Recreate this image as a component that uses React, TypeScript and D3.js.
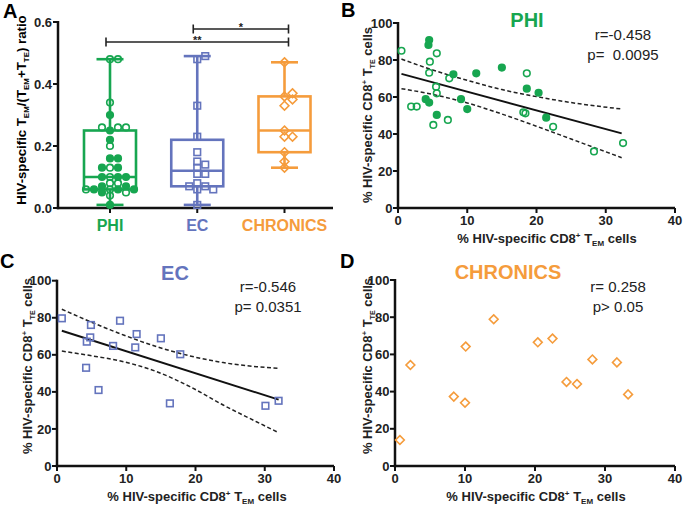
import React from 'react';
import * as d3 from 'd3';

const FONT = "'Liberation Sans', Arial, Helvetica, sans-serif";
const GREEN = '#17a650';
const BLUE = '#6474bd';
const ORANGE = '#f59c3c';

// ---------- Panel A data ----------
const groups = ['PHI', 'EC', 'CHRONICS'];
const ratioTicks = [0, 0.2, 0.4, 0.6];
const phiRatio = [0.48, 0.48, 0.34, 0.30, 0.25, 0.26, 0.26, 0.26, 0.22, 0.20, 0.16, 0.16, 0.13, 0.13, 0.13, 0.10, 0.10, 0.10, 0.10, 0.08, 0.08, 0.07, 0.07, 0.06, 0.06, 0.06, 0.06, 0.06, 0.05, 0.05, 0.04, 0.01];
const phiRatioFilled = [0, 0, 0, 1, 1, 0, 0, 0, 1, 0, 1, 1, 0, 1, 1, 0, 1, 1, 1, 0, 0, 1, 1, 0, 1, 1, 1, 0, 1, 0, 0, 1];
const ecRatio = [0.48, 0.49, 0.33, 0.23, 0.18, 0.15, 0.14, 0.13, 0.11, 0.11, 0.08, 0.07, 0.07, 0.06, 0.06, 0.01];
const chronicRatio = [0.47, 0.36, 0.37, 0.35, 0.33, 0.25, 0.23, 0.23, 0.18, 0.15, 0.13];
const boxMin = [0.01, 0.01, 0.13];
const boxQ1 = [0.06, 0.07, 0.18];
const boxMed = [0.10, 0.12, 0.25];
const boxQ3 = [0.25, 0.22, 0.36];
const boxMax = [0.48, 0.49, 0.47];
const sigLabels = ['**', '*'];
const sigFrom = ['PHI', 'EC'];
const sigTo = ['CHRONICS', 'CHRONICS'];

// ---------- Scatter panels data ----------
const xTicks = [0, 10, 20, 30, 40];
const yTicks = [0, 20, 40, 60, 80, 100];

// B: PHI
const phiTEM = [0.5, 1.9, 2.7, 4.6, 4.5, 5.6, 5.5, 5.6, 5.1, 7.2, 7.4, 18.6, 18.1, 18.4, 22.4, 28.3, 32.5,
  4.5, 4.4, 4.0, 4.5, 5.6, 8.0, 9.1, 10.0, 11.3, 15.0, 18.6, 20.3, 21.4];
const phiTTE = [85, 54.8, 54.8, 79.1, 73.1, 83.6, 65.6, 62, 44.9, 47.6, 70.1, 72.8, 51.7, 51.2, 43.9, 30.6, 35.1,
  90.8, 88.1, 58.8, 57, 50.3, 72.3, 58.8, 53.5, 72.8, 75.9, 64.5, 62.3, 48.8];
const phiFilled = [0, 0, 0, 0, 0, 0, 0, 0, 0, 0, 0, 0, 0, 0, 0, 0, 0,
  1, 1, 1, 1, 1, 1, 1, 1, 1, 1, 1, 1, 1];
const phiFitX = [0.5, 32.3];
const phiFitY = [72.5, 40.3];
const phiBandX = [0.5, 5, 10, 15, 20, 25, 32.3];
const phiBandUpper = [80.5, 74.6, 69.0, 64.0, 60.2, 57.0, 53.5];
const phiBandLower = [64.5, 61.4, 56.8, 50.8, 44.2, 37.3, 27.2];

// C: EC
const ecTEM = [0.7, 4.9, 9.1, 4.8, 4.3, 11.5, 8.1, 11.3, 15.0, 17.8, 4.2, 6.0, 16.3, 30.1, 32.0];
const ecTTE = [79.7, 76.1, 78.4, 69.4, 67.1, 71.2, 64.8, 64.0, 68.9, 60.3, 53.0, 41.0, 33.8, 32.5, 35.2];
const ecFitX = [0.7, 32];
const ecFitY = [73, 35.8];
const ecBandX = [0.7, 4.8, 9.6, 14.4, 19.2, 24, 28.8, 32];
const ecBandUpper = [84.6, 77.9, 70.7, 64.4, 59.4, 55.8, 53.6, 52.7];
const ecBandLower = [62, 59.6, 56.3, 50.9, 42.8, 32.9, 23.9, 18];

// D: CHRONICS
const chTEM = [0.7, 2.2, 8.4, 10.0, 10.1, 14.1, 20.4, 22.5, 24.5, 26.0, 28.2, 31.7, 33.3];
const chTTE = [14, 54.3, 37.3, 34, 64.2, 78.9, 66.5, 68.5, 45.2, 44.1, 57.3, 55.7, 38.5];

type Shape = 'circle' | 'square' | 'diamond';

function Marker({ shape, x, y, color, filled }: { shape: Shape; x: number; y: number; color: string; filled?: boolean }) {
  const sw = 1.6;
  if (shape === 'circle') {
    return <circle cx={x} cy={y} r={3.3} fill={filled ? color : 'none'} stroke={color} strokeWidth={sw} />;
  }
  if (shape === 'square') {
    const s = 3.3;
    return <rect x={x - s} y={y - s} width={2 * s} height={2 * s} fill="none" stroke={color} strokeWidth={sw} />;
  }
  const d = 4.4;
  return <path d={`M${x},${y - d}L${x + d},${y}L${x},${y + d}L${x - d},${y}Z`} fill="none" stroke={color} strokeWidth={sw} />;
}

function swarm(values: number[], y: (v: number) => number, step: number, minDist: number): number[] {
  const placed: { dx: number; py: number }[] = [];
  return values.map((v) => {
    const py = y(v);
    for (let k = 0; k < 30; k++) {
      const m = k === 0 ? 0 : k % 2 === 1 ? (k + 1) / 2 : -k / 2;
      const dx = m * step;
      if (placed.every((p) => Math.hypot(p.dx - dx, p.py - py) >= minDist)) {
        placed.push({ dx, py });
        return dx;
      }
    }
    return 0;
  });
}

function PanelA() {
  const y = d3.scaleLinear().domain([0, 0.6]).range([208, 22]);
  const x = d3.scalePoint<string>().domain(groups).range([110, 284.5]);
  const axisX0 = 58;
  const axisX1 = 333;
  const colors = [GREEN, BLUE, ORANGE];
  const shapes: Shape[] = ['circle', 'square', 'diamond'];
  const vals = [phiRatio, ecRatio, chronicRatio];
  const sigY = [42, 29];
  return (
    <g>
      <text x={3} y={18} fontSize={20} fontWeight="bold" fontFamily={FONT}>A</text>
      {/* y label */}
      <text transform={`translate(26,110) rotate(-90)`} textAnchor="middle" fontSize={13.2} fontWeight="bold" fontFamily={FONT}>
        HIV-specific T<tspan fontSize={8} dy={3}>EM</tspan><tspan dy={-3}>/(T</tspan><tspan fontSize={8} dy={3}>EM</tspan><tspan dy={-3}>+T</tspan><tspan fontSize={8} dy={3}>TE</tspan><tspan dy={-3}>) ratio</tspan>
      </text>
      {/* axes */}
      <line x1={axisX0} x2={axisX0} y1={y(0.6) - 1} y2={y(0) + 1.2} stroke="#111" strokeWidth={2.5} />
      <line x1={axisX0 - 1.2} x2={axisX1} y1={y(0)} y2={y(0)} stroke="#111" strokeWidth={2.5} />
      {ratioTicks.map((t) => (
        <g key={t}>
          <line x1={axisX0 - 5} x2={axisX0} y1={y(t)} y2={y(t)} stroke="#111" strokeWidth={2} />
          <text x={axisX0 - 6} y={y(t) + 4.6} textAnchor="end" fontSize={13} fontWeight="bold" fontFamily={FONT} fill="#222">{d3.format('.1f')(t)}</text>
        </g>
      ))}
      {groups.map((g, i) => (
        <g key={g}>
          <line x1={x(g)} x2={x(g)} y1={y(0)} y2={y(0) + 5} stroke="#111" strokeWidth={2} />
          <text x={x(g)} y={231} textAnchor="middle" fontSize={16} fontWeight="bold" fontFamily={FONT} fill={colors[i]}>{g}</text>
        </g>
      ))}
      {/* boxes */}
      {groups.map((g, i) => {
        const cx = x(g)!;
        const c = colors[i];
        const hw = 26;
        const cw = 13.5;
        return (
          <g key={'box' + g} stroke={c} strokeWidth={2.6} fill="none">
            <rect x={cx - hw} y={y(boxQ3[i])} width={2 * hw} height={y(boxQ1[i]) - y(boxQ3[i])} />
            <line x1={cx - hw} x2={cx + hw} y1={y(boxMed[i])} y2={y(boxMed[i])} />
            <line x1={cx} x2={cx} y1={y(boxQ3[i])} y2={y(boxMax[i])} />
            <line x1={cx} x2={cx} y1={y(boxQ1[i])} y2={y(boxMin[i])} />
            <line x1={cx - cw} x2={cx + cw} y1={y(boxMax[i])} y2={y(boxMax[i])} />
            <line x1={cx - cw} x2={cx + cw} y1={y(boxMin[i])} y2={y(boxMin[i])} />
          </g>
        );
      })}
      {/* points */}
      {groups.map((g, i) => {
        const cx = x(g)!;
        const offs = swarm(vals[i], y, 8, 6);
        return vals[i].map((v, j) => (
          <Marker key={g + j} shape={shapes[i]} x={cx + offs[j]} y={y(v)} color={colors[i]} filled={i === 0 ? phiRatioFilled[j] === 1 : false} />
        ));
      })}
      {/* significance */}
      {sigLabels.map((s, i) => {
        const x1 = x(sigFrom[i])! - 4;
        const x2 = x(sigTo[i])! + 4;
        return (
          <g key={'sig' + i}>
            <line x1={x1} x2={x2} y1={sigY[i]} y2={sigY[i]} stroke="#222" strokeWidth={1.6} />
            <line x1={x1} x2={x1} y1={sigY[i] - 4.5} y2={sigY[i] + 4.5} stroke="#222" strokeWidth={1.6} />
            <line x1={x2} x2={x2} y1={sigY[i] - 4.5} y2={sigY[i] + 4.5} stroke="#222" strokeWidth={1.6} />
            <text x={(x1 + x2) / 2} y={sigY[i] + 1.5} textAnchor="middle" fontSize={11} fontWeight="bold" fontFamily={FONT} fill="#222">{s}</text>
          </g>
        );
      })}
    </g>
  );
}

type ScatterProps = {
  letter: string; letterX: number; letterY: number;
  x0: number; x1: number; yTop: number; yBottom: number;
  xs: number[]; ys: number[]; filled?: number[]; shape: Shape; color: string;
  title: string; titleX: number; titleY: number;
  rText: string; pText: string; statX: number; statY: number;
  fitX?: number[]; fitY?: number[]; bandX?: number[]; bandU?: number[]; bandL?: number[];
  xLabelX: number; xLabelY: number; yLabelX: number; yLabelY: number;
};

function ScatterPanel(p: ScatterProps) {
  const x = d3.scaleLinear().domain([0, 40]).range([p.x0, p.x1]);
  const y = d3.scaleLinear().domain([0, 100]).range([p.yBottom, p.yTop]);
  const line = d3.line<[number, number]>().x((d) => x(d[0])).y((d) => y(d[1]));
  const curve = d3.line<[number, number]>().x((d) => x(d[0])).y((d) => y(d[1])).curve(d3.curveMonotoneX);
  return (
    <g fontFamily={FONT}>
      <text x={p.letterX} y={p.letterY} fontSize={20} fontWeight="bold">{p.letter}</text>
      <text x={p.titleX} y={p.titleY} textAnchor="middle" fontSize={20} fontWeight="bold" fill={p.color}>{p.title}</text>
      <text x={p.statX} y={p.statY} textAnchor="middle" fontSize={15} fill="#222" style={{ whiteSpace: 'pre' }}>{p.rText}</text>
      <text x={p.statX} y={p.statY + 20} textAnchor="middle" fontSize={15} fill="#222" style={{ whiteSpace: 'pre' }}>{p.pText}</text>
      {/* axes */}
      <line x1={p.x0} x2={p.x0} y1={p.yTop - 1} y2={p.yBottom + 1.2} stroke="#111" strokeWidth={2.5} />
      <line x1={p.x0 - 1.2} x2={p.x1} y1={p.yBottom} y2={p.yBottom} stroke="#111" strokeWidth={2.5} />
      {yTicks.map((t) => (
        <g key={'y' + t}>
          <line x1={p.x0 - 5} x2={p.x0} y1={y(t)} y2={y(t)} stroke="#111" strokeWidth={2} />
          <text x={p.x0 - 5.5} y={y(t) + 4.6} textAnchor="end" fontSize={13} fontWeight="bold" fill="#222">{t}</text>
        </g>
      ))}
      {xTicks.map((t) => (
        <g key={'x' + t}>
          <line x1={x(t)} x2={x(t)} y1={p.yBottom} y2={p.yBottom + 5} stroke="#111" strokeWidth={2} />
          <text x={x(t)} y={p.yBottom + 17} textAnchor="middle" fontSize={13} fontWeight="bold" fill="#222">{t}</text>
        </g>
      ))}
      <text x={p.xLabelX} y={p.xLabelY} textAnchor="middle" fontSize={13} fontWeight="bold" fill="#222">
        % HIV-specific CD8<tspan fontSize={8} dy={-5}>+</tspan><tspan dy={5}> T</tspan><tspan fontSize={8} dy={3}>EM</tspan><tspan dy={-3}> cells</tspan>
      </text>
      <text transform={`translate(${p.yLabelX},${p.yLabelY}) rotate(-90)`} textAnchor="middle" fontSize={13} fontWeight="bold" fill="#222">
        % HIV-specific CD8<tspan fontSize={8} dy={-5}>+</tspan><tspan dy={5}> T</tspan><tspan fontSize={7} dy={3}>TE</tspan><tspan dy={-3}> cells</tspan>
      </text>
      {p.bandX && p.bandU && (
        <path d={curve(p.bandX.map((v, i) => [v, p.bandU![i]]) as [number, number][])!} fill="none" stroke="#222" strokeWidth={1.5} strokeDasharray="4,2.5" />
      )}
      {p.bandX && p.bandL && (
        <path d={curve(p.bandX.map((v, i) => [v, p.bandL![i]]) as [number, number][])!} fill="none" stroke="#222" strokeWidth={1.5} strokeDasharray="4,2.5" />
      )}
      {p.fitX && p.fitY && (
        <path d={line(p.fitX.map((v, i) => [v, p.fitY![i]]) as [number, number][])!} fill="none" stroke="#111" strokeWidth={1.9} />
      )}
      {p.xs.map((v, i) => (
        <Marker key={i} shape={p.shape} x={x(v)} y={y(p.ys[i])} color={p.color} filled={p.filled ? p.filled[i] === 1 : false} />
      ))}
    </g>
  );
}

export default function App() {
  return (
    <svg width={686} height={509} style={{ position: 'absolute', left: 0, top: 0, background: '#fff' }} fontFamily={FONT}>
      <rect width={686} height={509} fill="#fff" />
      <PanelA />
      <ScatterPanel
        letter="B" letterX={341} letterY={17}
        x0={398} x1={675} yTop={23} yBottom={208}
        xs={phiTEM} ys={phiTTE} filled={phiFilled} shape="circle" color={GREEN}
        title="PHI" titleX={527} titleY={27}
        rText="r=-0.458" pText="p=  0.0095" statX={623} statY={40}
        fitX={phiFitX} fitY={phiFitY} bandX={phiBandX} bandU={phiBandUpper} bandL={phiBandLower}
        xLabelX={547} xLabelY={243} yLabelX={372} yLabelY={115}
      />
      <ScatterPanel
        letter="C" letterX={0} letterY={268}
        x0={57} x1={334} yTop={280.7} yBottom={466}
        xs={ecTEM} ys={ecTTE} shape="square" color={BLUE}
        title="EC" titleX={175} titleY={280}
        rText="r=-0.546" pText="p= 0.0351" statX={268} statY={292}
        fitX={ecFitX} fitY={ecFitY} bandX={ecBandX} bandU={ecBandUpper} bandL={ecBandLower}
        xLabelX={197} xLabelY={501} yLabelX={32} yLabelY={366}
      />
      <ScatterPanel
        letter="D" letterX={340} letterY={268}
        x0={395} x1={675} yTop={280} yBottom={466}
        xs={chTEM} ys={chTTE} shape="diamond" color={ORANGE}
        title="CHRONICS" titleX={508} titleY={279}
        rText="r= 0.258" pText="p> 0.05" statX={618} statY={292}
        xLabelX={536} xLabelY={501} yLabelX={372} yLabelY={366}
      />
    </svg>
  );
}
